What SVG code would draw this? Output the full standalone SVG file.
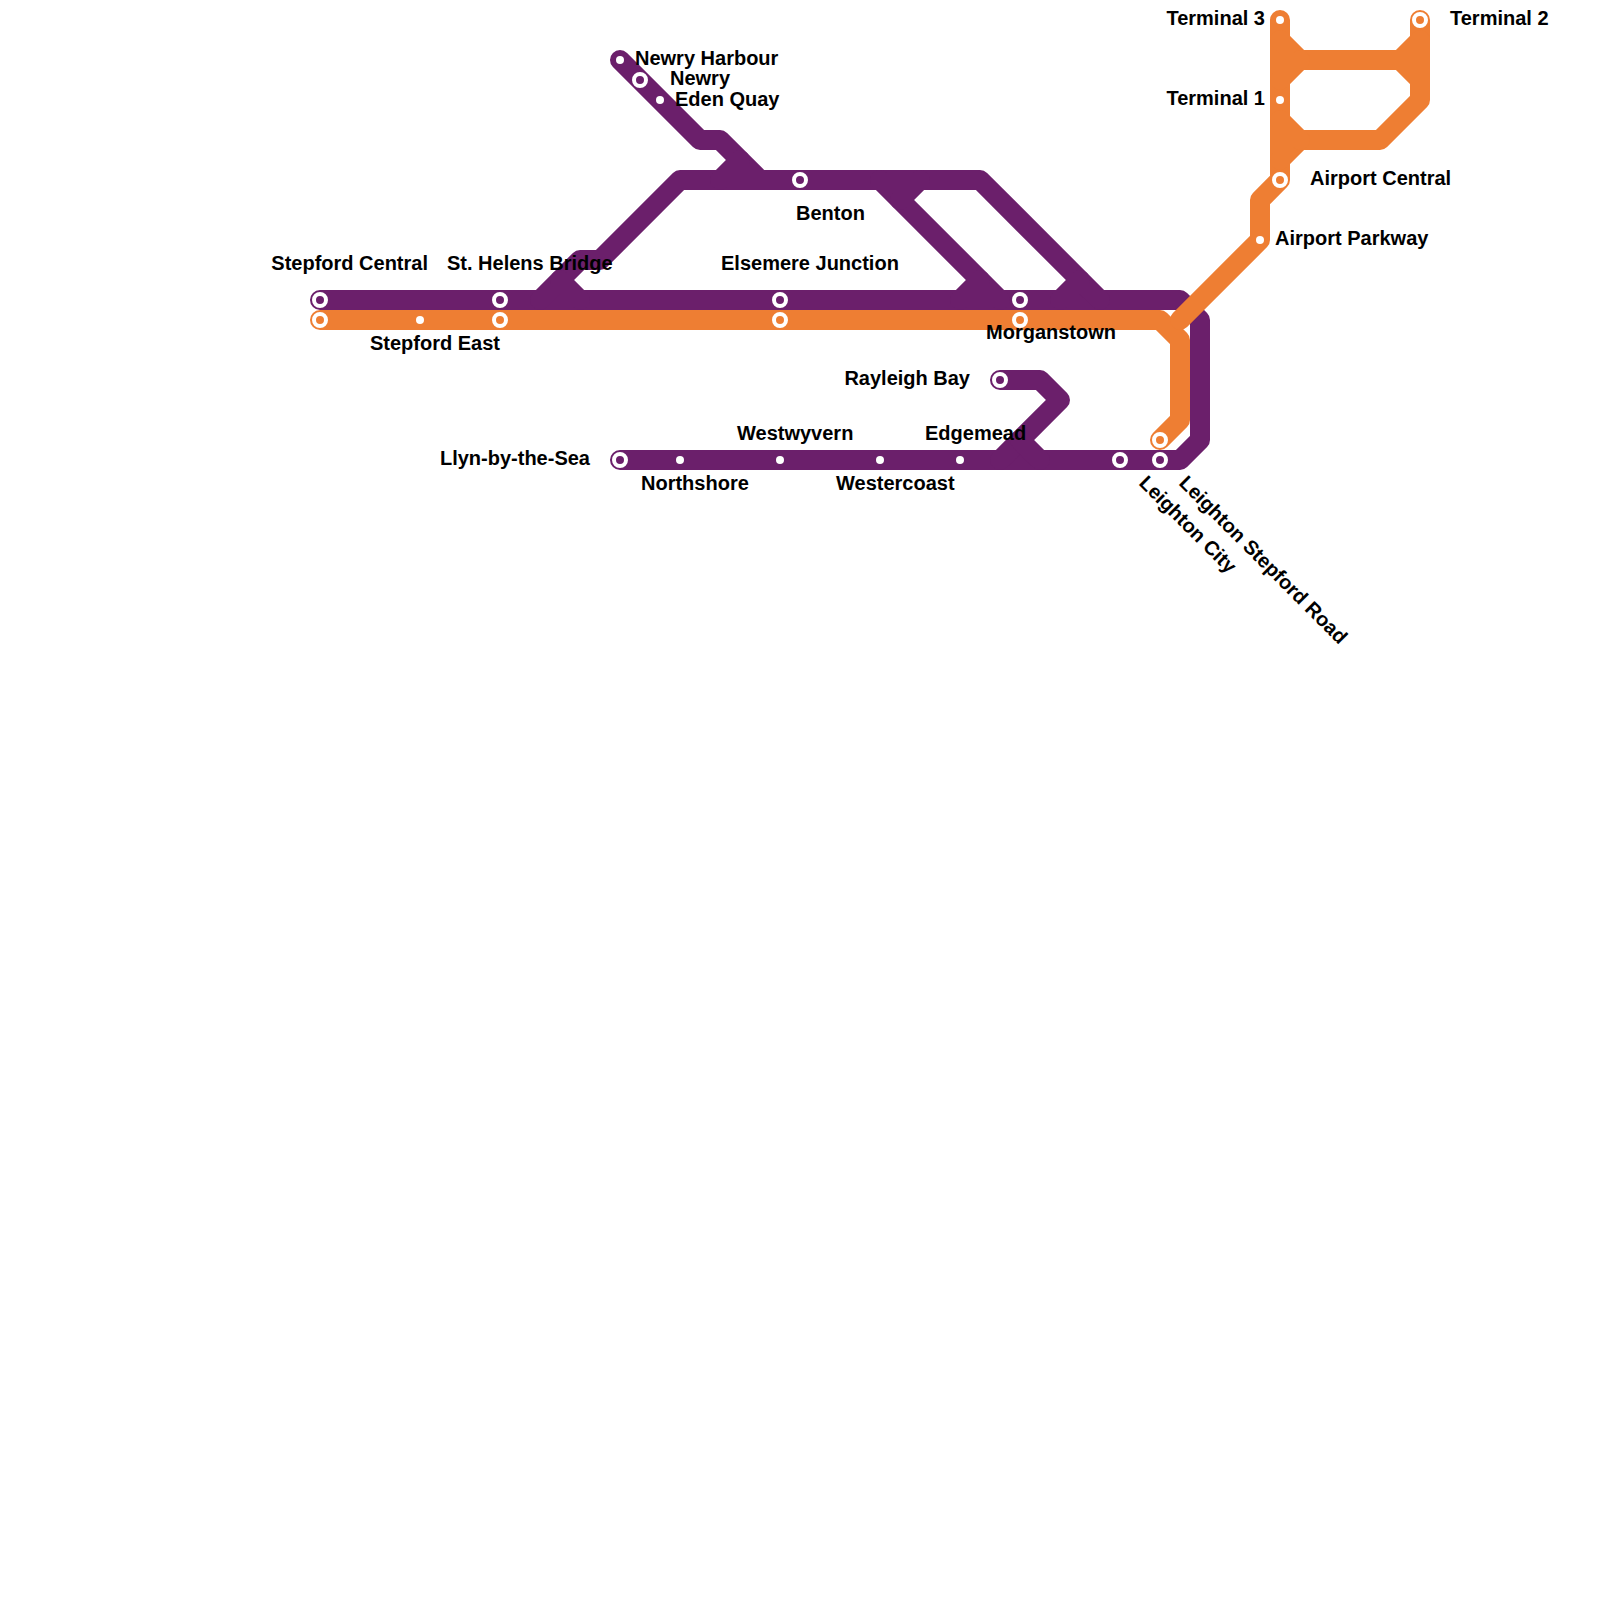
<svg xmlns="http://www.w3.org/2000/svg" width="1600" height="1600" viewBox="0 0 1600 1600">
<style>
.l{fill:none;stroke-width:20;stroke-linecap:round;stroke-linejoin:round}
.p{stroke:#6b1f6b}.o{stroke:#ee7e33}
.d{fill:#fff}
.r{stroke:#fff;stroke-width:4}
.rp{fill:#6b1f6b}.ro{fill:#ee7e33}
text{font-family:"Liberation Sans",Arial,sans-serif;font-size:20px;font-weight:700;fill:#000}
.e{text-anchor:end}
</style>
<rect width="1600" height="1600" fill="#fff"/>
<g id="connectors">
<path class="l p" d="M320 300H1180L1200 320V440L1180 460H620"/>
<path class="l p" d="M620 60L700 140H720L760 180"/>
<path class="l p" d="M540 300L580 260H600L680 180H980L1100 300"/>
<path class="l p" d="M560 280L580 300"/>
<path class="l p" d="M720 180L740 160"/>
<path class="l p" d="M880 180L1000 300"/>
<path class="l p" d="M920 180L900 200"/>
<path class="l p" d="M960 300L980 280"/>
<path class="l p" d="M1060 300L1080 280"/>
<path class="l p" d="M1000 380H1040L1060 400L1000 460"/>
<path class="l p" d="M1020 440L1040 460"/>
<path class="l o" d="M320 320H1160L1180 340V420L1160 440"/>
<path class="l o" d="M1180 320L1260 240V200L1280 180V20"/>
<path class="l o" d="M1280 40L1300 60H1400L1420 40V20M1400 60L1420 80"/>
<path class="l o" d="M1280 160L1300 140H1380L1420 100V40"/>
<path class="l o" d="M1280 80L1300 60M1280 120L1300 140"/>
</g>
<g id="st-stepford-central"><circle cx="320" cy="300" r="6" class="r rp"/><text class="e" x="428" y="270">Stepford Central</text></g>
<g id="st-stepford-central-o"><circle cx="320" cy="320" r="6" class="r ro"/></g>
<g id="st-stepford-east"><circle cx="420" cy="320" r="4" class="d"/><text class="e" x="500" y="350">Stepford East</text></g>
<g id="st-helens"><circle cx="500" cy="300" r="6" class="r rp"/><circle cx="500" cy="320" r="6" class="r ro"/><text x="447" y="270">St. Helens Bridge</text></g>
<g id="st-elsemere"><circle cx="780" cy="300" r="6" class="r rp"/><circle cx="780" cy="320" r="6" class="r ro"/><text x="721" y="270">Elsemere Junction</text></g>
<g id="st-morganstown"><circle cx="1020" cy="300" r="6" class="r rp"/><circle cx="1020" cy="320" r="6" class="r ro"/><text x="986" y="339">Morganstown</text></g>
<g id="st-benton"><circle cx="800" cy="180" r="6" class="r rp"/><text x="796" y="220">Benton</text></g>
<g id="st-newry-harbour"><circle cx="620" cy="60" r="4" class="d"/><text x="635" y="65">Newry Harbour</text></g>
<g id="st-newry"><circle cx="640" cy="80" r="6" class="r rp"/><text x="670" y="85">Newry</text></g>
<g id="st-eden-quay"><circle cx="660" cy="100" r="4" class="d"/><text x="675" y="106">Eden Quay</text></g>
<g id="st-rayleigh"><circle cx="1000" cy="380" r="6" class="r rp"/><text class="e" x="970" y="385">Rayleigh Bay</text></g>
<g id="st-llyn"><circle cx="620" cy="460" r="6" class="r rp"/><text class="e" x="590" y="465">Llyn-by-the-Sea</text></g>
<g id="st-northshore"><circle cx="680" cy="460" r="4" class="d"/><text x="641" y="490">Northshore</text></g>
<g id="st-westwyvern"><circle cx="780" cy="460" r="4" class="d"/><text x="737" y="440">Westwyvern</text></g>
<g id="st-westercoast"><circle cx="880" cy="460" r="4" class="d"/><text x="836" y="490">Westercoast</text></g>
<g id="st-edgemead"><circle cx="960" cy="460" r="4" class="d"/><text x="925" y="440">Edgemead</text></g>
<g id="st-leighton-city"><circle cx="1120" cy="460" r="6" class="r rp"/><text transform="translate(1138 484) rotate(45)">Leighton City</text></g>
<g id="st-leighton-stepford"><circle cx="1160" cy="460" r="6" class="r rp"/><circle cx="1160" cy="440" r="6" class="r ro"/><text transform="translate(1178 484) rotate(45)">Leighton Stepford Road</text></g>
<g id="st-terminal-3"><circle cx="1280" cy="20" r="4" class="d"/><text class="e" x="1265" y="25">Terminal 3</text></g>
<g id="st-terminal-1"><circle cx="1280" cy="100" r="4" class="d"/><text class="e" x="1265" y="105">Terminal 1</text></g>
<g id="st-terminal-2"><circle cx="1420" cy="20" r="6" class="r ro"/><text x="1450" y="25">Terminal 2</text></g>
<g id="st-airport-central"><circle cx="1280" cy="180" r="6" class="r ro"/><text x="1310" y="185">Airport Central</text></g>
<g id="st-airport-parkway"><circle cx="1260" cy="240" r="4" class="d"/><text x="1275" y="245">Airport Parkway</text></g>
</svg>
